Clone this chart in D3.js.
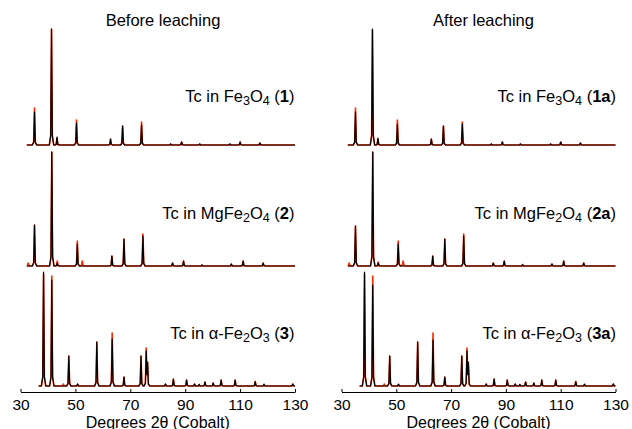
<!DOCTYPE html>
<html>
<head>
<meta charset="utf-8">
<script src="https://cdn.jsdelivr.net/npm/d3@7"></script>
<style>
  body { margin: 0; background: #fff; }
  text { font-family: "Liberation Sans", Arial, Helvetica, sans-serif; fill: #000; }
</style>
</head>
<body>
<svg id="chart" width="632" height="429"></svg>
<script>
// ---- data (2-theta in degrees, relative intensity) ----
var xTicks = [30, 50, 70, 90, 110, 130];
var columnTitles = ["Before leaching", "After leaching"];
var axisTitle = "Degrees 2\u03b8 (Cobalt)";

// peak positions per phase
var fe3o4Peaks   = [35.1, 41.3, 43.3, 50.4, 62.8, 67.2, 74.1, 84.7, 88.7, 95.3, 106.3, 110.0, 117.2];
var mgfe2o4Peaks = [32.8, 35.1, 41.4, 43.4, 50.7, 52.5, 63.3, 67.7, 74.6, 85.4, 89.4, 96.1, 106.8, 111.1, 118.4];
var fe2o3Peaks   = [38.4, 41.4, 45.6, 47.6, 50.8, 57.8, 63.4, 67.7, 73.9, 75.8, 76.3, 82.8, 85.7, 90.5,
                    93.4, 95.1, 97.2, 100.2, 103.1, 108.2, 115.5, 118.7, 129.2];

// observed (black) and calculated (red) intensities
var obs1  = [33, 116, 8, 22, 6, 19, 20, 1, 3, 1, 1, 3, 2];
var calc1 = [37, 116, 7, 25, 6, 19, 23, 1, 3, 1, 1, 3, 2];
var obs1a  = [33, 116, 7, 21, 6, 19, 21, 1, 3, 1, 1, 3, 2];
var calc1a = [37, 115, 6, 25, 6, 19, 23, 1, 3, 1, 1, 3, 2];

var obs2  = [0, 41, 114, 3, 22, 0, 10, 27, 30, 3, 5, 1, 2, 5, 3];
var calc2 = [3, 41, 114, 5, 25, 5, 10, 27, 32, 3, 5, 1, 2, 5, 3];
var obs2a  = [0, 40, 114, 3, 22, 0, 10, 27, 30, 3, 5, 1, 2, 5, 3];
var calc2a = [3, 40, 114, 4, 25, 5, 10, 27, 32, 3, 5, 1.5, 2, 5, 3];

var obs3  = [114, 106, 0, 30, 2, 44, 47, 9, 30, 34, 22, 2, 7, 6, 2, 1.5, 4, 3, 6, 6, 4.5, 1.7, 2];
var calc3 = [112, 110, 2, 30, 2, 44, 53, 9, 30, 37, 22, 2, 7, 6, 2, 1.5, 4, 3, 6, 6, 4.5, 1.7, 2];
var obs3a  = [114, 101, 0, 30, 1.7, 44, 46, 9, 30, 34, 22, 2, 7, 6, 2, 1.5, 4, 3, 6, 6, 4.5, 1.7, 2];
var calc3a = [112, 110, 2, 30, 1.7, 44, 53, 9, 30, 37, 22, 2, 7, 6, 2, 1.5, 4, 3, 6, 6, 4.5, 1.7, 2];

var scanStart = [32.3, 32.3, 36.6];
var scanEnd = 130;

// label pieces: [text, style]
var labels = [
  [["Tc in Fe"], ["3", "sub"], ["O"], ["4", "sub"], [" ("], ["1", "b"], [")"]],
  [["Tc in MgFe"], ["2", "sub"], ["O"], ["4", "sub"], [" ("], ["2", "b"], [")"]],
  [["Tc in \u03b1-Fe"], ["2", "sub"], ["O"], ["3", "sub"], [" ("], ["3", "b"], [")"]]
];
var labelsA = [
  [["Tc in Fe"], ["3", "sub"], ["O"], ["4", "sub"], [" ("], ["1a", "b"], [")"]],
  [["Tc in MgFe"], ["2", "sub"], ["O"], ["4", "sub"], [" ("], ["2a", "b"], [")"]],
  [["Tc in \u03b1-Fe"], ["2", "sub"], ["O"], ["3", "sub"], [" ("], ["3a", "b"], [")"]]
];

var columns = [
  { left: 20.5, right: 295, titleX: 163, labelX: 294.5, labels: labels,
    rows: [[fe3o4Peaks, obs1, calc1], [mgfe2o4Peaks, obs2, calc2], [fe2o3Peaks, obs3, calc3]] },
  { left: 341.5, right: 615.5, titleX: 483.5, labelX: 616, labels: labelsA,
    rows: [[fe3o4Peaks, obs1a, calc1a], [mgfe2o4Peaks, obs2a, calc2a], [fe2o3Peaks, obs3a, calc3a]] }
];

var baselines = [145, 266, 386];
var labelY = [101.5, 218.5, 338.5];
var axisY = 392;

// peak line shape (half-width in degrees -> fraction of height)
var shape = d3.scaleLinear().domain([0, 0.3, 0.8]).range([1, 0.08, 0]).clamp(true);

function profile(start, end, pos, amp) {
  var xs = [start, end];
  pos.forEach(function(p) {
    [-0.8, -0.3, 0, 0.3, 0.8].forEach(function(o) { xs.push(p + o); });
  });
  xs = xs.filter(function(t) { return t >= start && t <= end; }).sort(d3.ascending);
  xs = xs.filter(function(t, i) { return i === 0 || t !== xs[i - 1]; });
  return xs.map(function(t) {
    var s = 0;
    pos.forEach(function(p, i) { s += amp[i] * shape(Math.abs(t - p)); });
    return [t, s];
  });
}

var svg = d3.select("#chart");

columns.forEach(function(col, ci) {
  var x = d3.scaleLinear().domain([30, 130]).range([col.left, col.right]);

  svg.append("text")
      .attr("x", col.titleX)
      .attr("y", 26)
      .attr("text-anchor", "middle")
      .style("font-size", "16.5px")
      .text(columnTitles[ci]);

  col.rows.forEach(function(row, ri) {
    var base = baselines[ri];
    var y = d3.scaleLinear().domain([0, 120]).range([base, base - 120]);
    var line = d3.line()
        .x(function(d) { return x(d[0]); })
        .y(function(d) { return y(d[1]); });

    svg.append("path")
        .datum(profile(scanStart[ri], scanEnd, row[0], row[2]))
        .attr("fill", "none")
        .attr("stroke", "#ff2a00")
        .attr("stroke-width", 1.6)
        .attr("stroke-linejoin", "round")
        .attr("d", line);

    svg.append("path")
        .datum(profile(scanStart[ri], scanEnd, row[0], row[1]))
        .attr("fill", "none")
        .attr("stroke", "#000")
        .attr("stroke-width", 1.2)
        .attr("stroke-linejoin", "round")
        .attr("d", line);

    var t = svg.append("text")
        .attr("x", col.labelX)
        .attr("y", labelY[ri])
        .attr("text-anchor", "end")
        .style("font-size", "16.5px");
    col.labels[ri].forEach(function(part) {
      var s = t.append("tspan").text(part[0]);
      if (part[1] === "sub") {
        s.attr("dy", 3).style("font-size", "12.5px");
        s.attr("class", "sub");
      } else if (part[1] === "b") {
        s.style("font-weight", "bold");
      }
    });
    // bring the text back to baseline after each subscript
    t.selectAll("tspan").each(function(d, i, nodes) {
      var prev = i > 0 ? nodes[i - 1] : null;
      if (prev && prev.getAttribute("class") === "sub" && this.getAttribute("class") !== "sub") {
        d3.select(this).attr("dy", -3);
      }
    });
  });

  var axis = svg.append("g")
      .attr("transform", "translate(0," + axisY + ")")
      .call(d3.axisBottom(x).tickValues(xTicks).tickSizeInner(-3).tickSizeOuter(0).tickPadding(7));
  axis.select(".domain").attr("stroke", "#000");
  axis.selectAll(".tick line").attr("stroke", "#000");
  axis.selectAll(".tick text")
      .style("font-size", "15.5px")
      .style("font-family", "'Liberation Sans', Arial, sans-serif")
      .attr("fill", "#000");

  svg.append("text")
      .attr("x", (col.left + col.right) / 2)
      .attr("y", 427.5)
      .attr("text-anchor", "middle")
      .style("font-size", "16px")
      .text(axisTitle);
});
</script>
</body>
</html>
